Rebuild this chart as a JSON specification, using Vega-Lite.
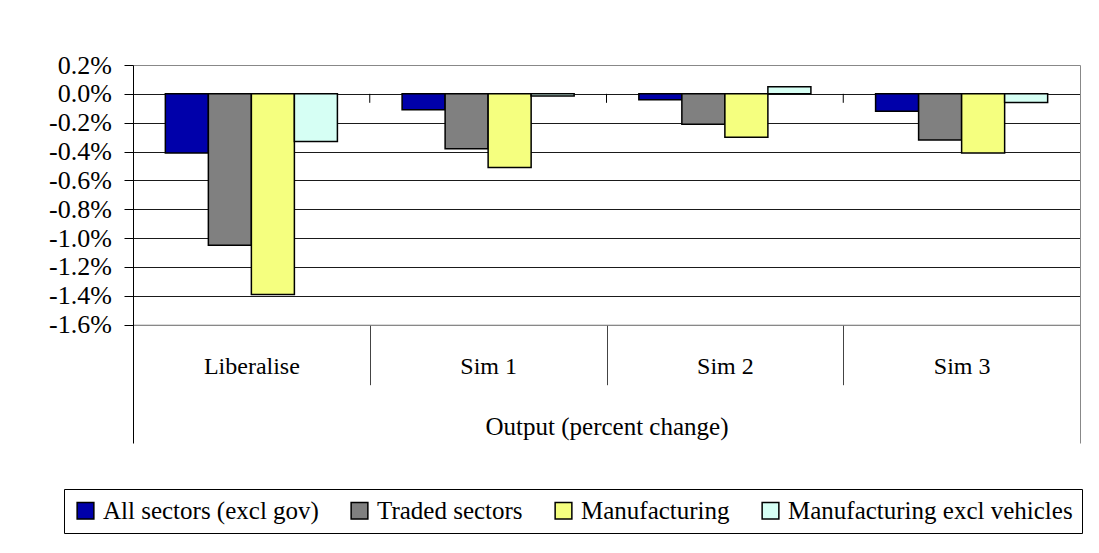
{
  "$schema": "https://vega.github.io/schema/vega-lite/v6.json",
  "width": 947,
  "height": 378,
  "autosize": {"type": "none"},
  "padding": {"left": 133, "top": 65, "right": 19, "bottom": 110},
  "background": "white",
  "config": {"view": {"stroke": null}, "font": "Liberation Serif"},
  "datasets": {
    "bars": [
      {"scenario": "Liberalise", "series": "All sectors (excl gov)", "value": -0.41},
      {"scenario": "Liberalise", "series": "Traded sectors", "value": -1.05},
      {"scenario": "Liberalise", "series": "Manufacturing", "value": -1.39},
      {"scenario": "Liberalise", "series": "Manufacturing excl vehicles", "value": -0.33},
      {"scenario": "Sim 1", "series": "All sectors (excl gov)", "value": -0.11},
      {"scenario": "Sim 1", "series": "Traded sectors", "value": -0.38},
      {"scenario": "Sim 1", "series": "Manufacturing", "value": -0.51},
      {"scenario": "Sim 1", "series": "Manufacturing excl vehicles", "value": -0.015},
      {"scenario": "Sim 2", "series": "All sectors (excl gov)", "value": -0.04},
      {"scenario": "Sim 2", "series": "Traded sectors", "value": -0.21},
      {"scenario": "Sim 2", "series": "Manufacturing", "value": -0.3},
      {"scenario": "Sim 2", "series": "Manufacturing excl vehicles", "value": 0.05},
      {"scenario": "Sim 3", "series": "All sectors (excl gov)", "value": -0.12},
      {"scenario": "Sim 3", "series": "Traded sectors", "value": -0.32},
      {"scenario": "Sim 3", "series": "Manufacturing", "value": -0.41},
      {"scenario": "Sim 3", "series": "Manufacturing excl vehicles", "value": -0.06}
    ],
    "ticks": [
      {"scenario": "Sim 1"},
      {"scenario": "Sim 2"},
      {"scenario": "Sim 3"}
    ]
  },
  "layer": [
    {
      "data": {"name": "bars"},
      "mark": {"type": "bar", "stroke": "black", "strokeWidth": 1.5},
      "encoding": {
        "x": {
          "field": "scenario",
          "type": "nominal",
          "sort": ["Liberalise", "Sim 1", "Sim 2", "Sim 3"],
          "scale": {"paddingInner": 0, "paddingOuter": 0},
          "axis": {
            "orient": "bottom",
            "offset": -118.3,
            "tickBand": "extent",
            "tickSize": 60,
            "tickColor": "#444444",
            "tickWidth": 1,
            "domainColor": "#888888",
            "labelAngle": 0,
            "labelFontSize": 24,
            "labelColor": "black",
            "labelBaseline": "middle",
            "labelPadding": -18,
            "title": "Output (percent change)",
            "titleFontSize": 25,
            "titleFontWeight": "normal",
            "titleColor": "black",
            "titlePadding": 29,
            "grid": false
          }
        },
        "xOffset": {
          "field": "series",
          "type": "nominal",
          "sort": ["All sectors (excl gov)", "Traded sectors", "Manufacturing", "Manufacturing excl vehicles"],
          "scale": {"paddingInner": 0, "paddingOuter": 0.752}
        },
        "y": {
          "field": "value",
          "type": "quantitative",
          "scale": {"domain": [-2.42, 0.2], "nice": false, "zero": false},
          "axis": {
            "orient": "left",
            "values": [0.2, 0, -0.2, -0.4, -0.6, -0.8, -1.0, -1.2, -1.4, -1.6],
            "labelExpr": "replace(format(datum.value, '.1f'), '\u2212', '-') + '%'",
            "labelFontSize": 26,
            "labelColor": "black",
            "labelPadding": 12.7,
            "tickSize": 9,
            "tickColor": "black",
            "domainColor": "black",
            "grid": true,
            "gridColor": {"condition": {"test": "datum.value > 0.1 || datum.value < -1.5", "value": "#888888"}, "value": "#1a1a1a"},
            "gridWidth": 1,
            "title": null
          }
        },
        "color": {
          "field": "series",
          "type": "nominal",
          "sort": ["All sectors (excl gov)", "Traded sectors", "Manufacturing", "Manufacturing excl vehicles"],
          "scale": {
            "domain": ["All sectors (excl gov)", "Traded sectors", "Manufacturing", "Manufacturing excl vehicles"],
            "range": ["#0000AA", "#808080", "#F5FF7F", "#D6FFF4"]
          },
          "legend": {
            "orient": "none",
            "legendX": -69,
            "legendY": 424,
            "direction": "horizontal",
            "title": null,
            "symbolType": "square",
            "symbolSize": 280,
            "symbolStrokeColor": "black",
            "symbolStrokeWidth": 1.5,
            "symbolOpacity": 1,
            "labelFontSize": 25,
            "labelColor": "black",
            "labelLimit": 600,
            "labelOffset": 5,
            "columnPadding": 28,
            "strokeColor": "black",
            "fillColor": "white",
            "padding": 9
          }
        }
      }
    },
    {
      "data": {"name": "ticks"},
      "mark": {"type": "rule", "color": "black", "strokeWidth": 1},
      "encoding": {
        "x": {"field": "scenario", "type": "nominal", "sort": ["Liberalise", "Sim 1", "Sim 2", "Sim 3"], "bandPosition": 0},
        "y": {
          "datum": 0,
          "type": "quantitative",
          "axis": {"orient": "right", "domainColor": "#888888", "ticks": false, "labels": false, "grid": false, "title": null}
        },
        "y2": {"datum": -0.062}
      }
    }
  ],
  "resolve": {"axis": {"y": "independent"}}
}
